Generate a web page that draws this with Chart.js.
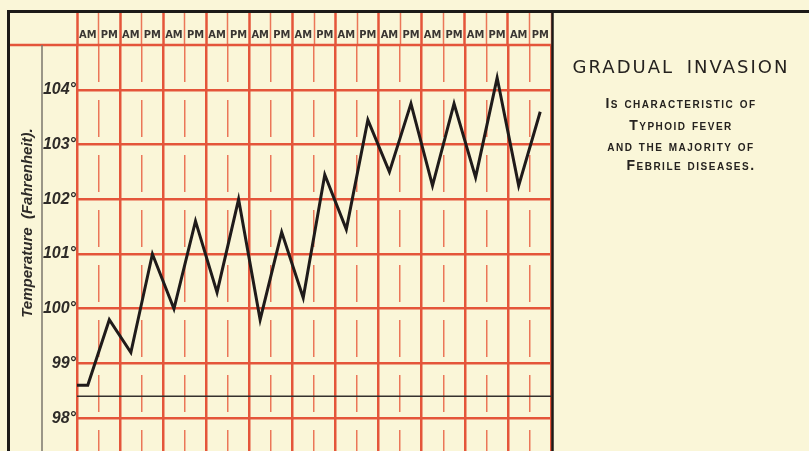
<!DOCTYPE html>
<html>
<head>
<meta charset="utf-8">
<script src="https://cdn.jsdelivr.net/npm/chart.js@4.4.1/dist/chart.umd.min.js"></script>
<style>
  html, body { margin: 0; padding: 0; background: #faf6d8; }
  #wrap { position: relative; width: 809px; height: 451px; overflow: hidden; background: #faf6d8; }
  canvas { position: absolute; left: 0; top: 0; }
  .panel { position: absolute; left: 553px; width: 256px; text-align: center; color: #25221f;
           font-family: 'DejaVu Sans', 'Liberation Sans', Arial, sans-serif; white-space: nowrap; }
  .title { top: 56px; font-size: 18px; letter-spacing: 2px; word-spacing: 5px; }
  .sub { font-family: 'Liberation Sans', Arial, sans-serif; font-size: 14px; font-weight: bold;
         font-variant: small-caps; letter-spacing: 1.5px; }
</style>
</head>
<body>
<div id="wrap">
  <canvas id="c" width="809" height="451"></canvas>
  <div class="panel title">GRADUAL INVASION</div>
  <div class="panel sub" style="top:95px">Is characteristic of</div>
  <div class="panel sub" style="top:117px">Typhoid fever</div>
  <div class="panel sub" style="top:138px">and the majority of</div>
  <div class="panel sub" style="top:157px; padding-left:20px; box-sizing:border-box;">Febrile diseases.</div>
</div>
<script>
// ---- data ----
const halfDays = ['AM','PM','AM','PM','AM','PM','AM','PM','AM','PM','AM','PM',
                  'AM','PM','AM','PM','AM','PM','AM','PM','AM','PM'];
const temps = [98.6, 99.8, 99.2, 101.0, 100.0, 101.6, 100.3, 102.0, 99.8, 101.4, 100.2,
               102.45, 101.45, 103.45, 102.5, 103.75, 102.25, 103.75, 102.4, 104.22, 102.25, 103.6];
const yTicks = [98, 99, 100, 101, 102, 103, 104];
const normalTemp = 98.4;
const yMin = 97.4;
const yMax = 104.82;

// ---- styling ----
const RED = '#e4553a';
const RED_THIN = '#eb7658';
const INK = '#2e2b28';

const nCols = halfDays.length;
const lineData = [{x: 0, y: temps[0]}].concat(temps.map((t, i) => ({x: i + 0.5, y: t})));
const normalData = [{x: 0, y: normalTemp}, {x: nCols, y: normalTemp}];

const noPad = s => { s.paddingTop = 0; s.paddingBottom = 0; s.paddingLeft = 0; s.paddingRight = 0; };

const frame = {
  id: 'frame',
  afterDraw(chart) {
    const {ctx, chartArea: a} = chart;
    ctx.save();
    const line = (x1, y1, x2, y2) => { ctx.beginPath(); ctx.moveTo(x1, y1); ctx.lineTo(x2, y2); ctx.stroke(); };
    ctx.strokeStyle = RED; ctx.lineWidth = 2.5;
    line(10, a.top, a.right, a.top);
    ctx.strokeStyle = '#7a766c'; ctx.lineWidth = 1.5;
    line(42, a.top, 42, a.bottom);
    ctx.strokeStyle = '#1c1a18'; ctx.lineWidth = 3;
    line(7, 11.5, 809, 11.5);
    line(8.5, 10, 8.5, 451);
    ctx.lineWidth = 2.5;
    line(a.right + 1.5, 11, a.right + 1.5, 451);
    ctx.restore();
  }
};

new Chart(document.getElementById('c'), {
  type: 'line',
  data: {
    labels: halfDays,
    datasets: [
      { label: 'Temperature', data: lineData, xAxisID: 'x', yAxisID: 'y',
        borderColor: '#1f1b1a', borderWidth: 3, pointRadius: 0, tension: 0,
        borderJoinStyle: 'miter', fill: false },
      { label: 'Normal', data: normalData, xAxisID: 'x', yAxisID: 'y',
        borderColor: '#35312d', borderWidth: 1.5, pointRadius: 0, fill: false }
    ]
  },
  options: {
    responsive: false,
    animation: false,
    events: [],
    layout: { padding: { left: 8, right: 258, top: 13, bottom: 0 } },
    plugins: { legend: { display: false }, tooltip: { enabled: false }, title: { display: false } },
    scales: {
      xTop: {
        type: 'category', position: 'top', labels: halfDays, offset: true,
        grid: { offset: true, drawOnChartArea: false, drawTicks: true, tickLength: 32,
                tickWidth: c => (c.index % 2 === 0 ? 2.5 : 1.5),
                tickColor: c => (c.index % 2 === 0 ? RED : RED_THIN) },
        border: { display: false },
        ticks: { autoSkip: false, maxRotation: 0, minRotation: 0, padding: -29, color: '#3a3632',
                 font: { family: "'Liberation Sans Narrow', 'DejaVu Sans Condensed', sans-serif", size: 11, weight: 'bold' } },
        afterFit: s => { s.height = 32; noPad(s); }
      },
      x: {
        type: 'linear', position: 'bottom', min: 0, max: nCols,
        afterBuildTicks: s => { s.ticks = []; for (let v = 0; v <= nCols; v += 2) s.ticks.push({value: v}); },
        grid: { color: RED, lineWidth: 2.5, drawTicks: false },
        border: { display: false },
        ticks: { display: false },
        afterFit: s => { s.height = 0; noPad(s); }
      },
      xThin: {
        type: 'linear', position: 'bottom', min: 0, max: nCols,
        afterBuildTicks: s => { s.ticks = []; for (let v = 1; v < nCols; v += 2) s.ticks.push({value: v}); },
        grid: { color: RED_THIN, lineWidth: 1.5, drawTicks: false },
        border: { display: false, dash: [37, 18], dashOffset: 0 },
        ticks: { display: false },
        afterFit: s => { s.height = 0; noPad(s); }
      },
      y: {
        type: 'linear', position: 'left', min: yMin, max: yMax,
        afterBuildTicks: s => { s.ticks = yTicks.map(v => ({value: v})); },
        grid: { color: RED, lineWidth: 2.5, drawTicks: false },
        border: { display: false },
        ticks: { padding: 1, color: INK, callback: v => v + '°',
                 font: { family: "'Liberation Sans', Arial, sans-serif", size: 16, weight: 'bold', style: 'italic' } },
        title: { display: true, text: '            Temperature  (Fahrenheit).', color: INK, padding: { top: 11, bottom: 0 },
                 font: { family: "'Liberation Sans', Arial, sans-serif", size: 15, weight: 'bold', style: 'italic' } },
        afterFit: s => { s.width = 69; noPad(s); }
      }
    }
  },
  plugins: [frame]
});
</script>
</body>
</html>
